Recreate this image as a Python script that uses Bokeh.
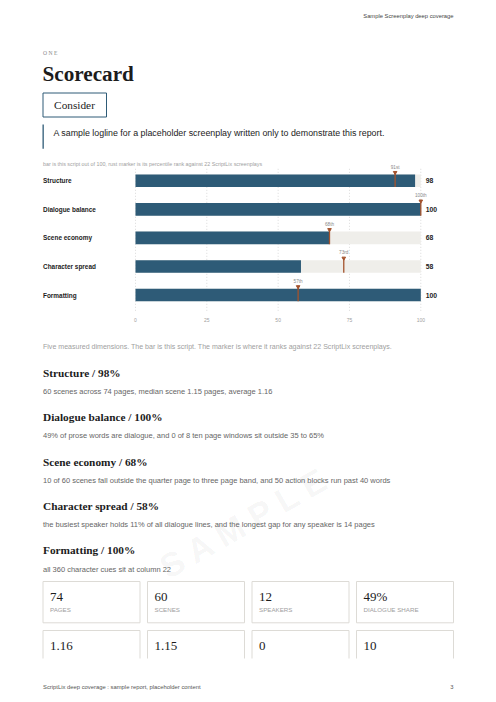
from bokeh.plotting import figure
from bokeh.models import Range1d, ColumnDataSource
from bokeh.core.properties import value
from bokeh.embed import file_html
from bokeh.resources import INLINE

# ---------------- data ----------------
categories = ["Structure", "Dialogue balance", "Scene economy", "Character spread", "Formatting"]
scores = [98, 100, 68, 58, 100]
percentiles = [91, 100, 68, 73, 57]
percentile_labels = ["91st", "100th", "68th", "73rd", "57th"]
ticks = [0, 25, 50, 75, 100]
details = [
    "60 scenes across 74 pages, median scene 1.15 pages, average 1.16",
    "49% of prose words are dialogue, and 0 of 8 ten page windows sit outside 35 to 65%",
    "10 of 60 scenes fall outside the quarter page to three page band, and 50 action blocks run past 40 words",
    "the busiest speaker holds 11% of all dialogue lines, and the longest gap for any speaker is 14 pages",
    "all 360 character cues sit at column 22",
]
stat_values = ["74", "60", "12", "49%", "1.16", "1.15", "0", "10"]
stat_labels = ["PAGES", "SCENES", "SPEAKERS", "DIALOGUE SHARE", "", "", "", ""]

# ---------------- styles / layout ----------------
TEAL = "#2e5b77"
TRACK = "#efeeea"
RUST = "#a4532d"
INK = "#1c1c1c"
GREY = "#666666"
LIGHT = "#a0a0a0"
BOX = "#dddbd6"
SANS = value("Liberation Sans")
SERIF = value("Liberation Serif")

W, H = 488, 694
X0_PX, X100_PX = 135.0, 420.3
ROW0_PX, ROW_STEP = 180.3, 28.55
BAR_H = 0.44

px_per_unit = (X100_PX - X0_PX) / 100.0
score_range = Range1d(start=-X0_PX / px_per_unit, end=(W - X0_PX) / px_per_unit)
row_range = Range1d(start=(H - ROW0_PX) / ROW_STEP, end=-ROW0_PX / ROW_STEP)

p = figure(width=W, height=H, output_backend="svg", toolbar_location=None,
           x_range=Range1d(0, W), y_range=Range1d(H, 0),
           min_border=0, outline_line_color=None, background_fill_color="white",
           border_fill_color="white")
p.axis.visible = False
p.grid.visible = False
p.extra_x_ranges = {"score": score_range}
p.extra_y_ranges = {"rows": row_range}


def txt(x, y, s, size, color=INK, font=SANS, style="normal", align="left",
        baseline="middle", angle=0, alpha=1.0, xr="default", yr="default"):
    p.text(x=[x], y=[y], text=[s], text_font=font, text_font_size=f"{size}px",
           text_color=color, text_font_style=style, text_align=align,
           text_baseline=baseline, angle=angle, text_alpha=alpha,
           x_range_name=xr, y_range_name=yr)


# watermark
txt(244, 522, "S A M P L E", 34, color="#000000", style="bold", align="center",
    angle=0.52, alpha=0.05)

# header
txt(453, 15, "Sample Screenplay deep coverage", 5.8, color="#444444", align="right")
txt(42.5, 52, "O N E", 5.6, color="#888888", font=SERIF)
txt(42, 73, "Scorecard", 21.2, color=INK, font=SERIF, style="bold")

# consider box
p.quad(left=[42.5], right=[106], top=[92.5], bottom=[116.5], fill_color=None,
       line_color=TEAL, line_width=1)
txt(74, 104, "Consider", 11.3, color=INK, font=SERIF, align="center")

# logline
p.quad(left=[42], right=[43.3], top=[124], bottom=[148.3], fill_color=TEAL, line_color=None)
txt(53, 132.5, "A sample logline for a placeholder screenplay written only to demonstrate this report.",
    8.85, color="#222222")

# chart caption
txt(42.5, 163, "bar is this script out of 100, rust marker is its percentile rank against 22 ScriptLix screenplays",
    5.35, color=LIGHT)

rows = list(range(len(categories)))
src = ColumnDataSource(dict(
    row=rows, cat=categories, score=scores, pct=percentiles, plab=percentile_labels,
    slab=[str(s) for s in scores],
    bot=[r + BAR_H / 2 for r in rows],
    mtop=[r - BAR_H / 2 - 0.07 for r in rows],
    lab_y=[r - BAR_H / 2 - 0.26 for r in rows],
))

# dotted grid
p.segment(x0=ticks, x1=ticks, y0=[-0.42] * len(ticks), y1=[4.62] * len(ticks),
          line_color="#d0d0d0", line_width=0.8, line_dash="1 2",
          x_range_name="score", y_range_name="rows")
# tracks and bars
p.hbar(y="row", left=0, right=100, height=BAR_H, source=src, fill_color=TRACK,
       line_color=None, x_range_name="score", y_range_name="rows")
p.hbar(y="row", left=0, right="score", height=BAR_H, source=src, fill_color=TEAL,
       line_color=None, x_range_name="score", y_range_name="rows")
# percentile markers
p.segment(x0="pct", x1="pct", y0="mtop", y1="bot", source=src, line_color=RUST,
          line_width=1.3, x_range_name="score", y_range_name="rows")
p.scatter(x="pct", y="mtop", marker="inverted_triangle", size=3.6, source=src,
          fill_color=RUST, line_color=RUST, x_range_name="score", y_range_name="rows")
p.text(x="pct", y="lab_y", text="plab", source=src, text_font=SANS, text_font_size="4.7px",
       text_color="#8a8a8a", text_align="center", text_baseline="middle",
       x_range_name="score", y_range_name="rows")
# category + value labels
p.text(x=42.5, y="row", text="cat", source=src, text_font=SANS, text_font_size="6.45px",
       text_font_style="bold", text_color=INK, text_baseline="middle", y_range_name="rows")
p.text(x=101.7, y="row", text="slab", source=src, text_font=SANS, text_font_size="6.8px",
       text_font_style="bold", text_color=INK, text_baseline="middle",
       x_range_name="score", y_range_name="rows")
# tick labels
p.text(x=ticks, y=[4.86] * len(ticks), text=[str(t) for t in ticks], text_font=SANS,
       text_font_size="5px", text_color=LIGHT, text_align="center", text_baseline="middle",
       x_range_name="score", y_range_name="rows")

# chart footnote
txt(42.5, 345.7, "Five measured dimensions. The bar is this script. The marker is where it ranks against 22 ScriptLix screenplays.",
    7.05, color=LIGHT)

# dimension write-ups
for i, (c, s, d) in enumerate(zip(categories, scores, details)):
    hy = 372.3 + i * 44.4
    txt(42.5, hy, f"{c} / {s}%", 11.3, color=INK, font=SERIF, style="bold")
    txt(42.5, hy + 18.6, d, 7.5, color=GREY)

# stat boxes
for i, (v, l) in enumerate(zip(stat_values, stat_labels)):
    col, r = i % 4, i // 4
    bx = 42.5 + col * 104.5
    if r == 0:
        p.quad(left=[bx], right=[bx + 97], top=[581], bottom=[622.3], fill_color=None,
               line_color=BOX, line_width=1)
        txt(bx + 7, 596, v, 13, color=INK, font=SERIF)
        txt(bx + 7, 609, l, 6.2, color=LIGHT)
    else:
        p.multi_line(xs=[[bx, bx, bx + 97, bx + 97]], ys=[[658, 630, 630, 658]],
                     line_color=BOX, line_width=1)
        txt(bx + 7, 645, v, 13, color=INK, font=SERIF)

# footer
txt(42.5, 686, "ScriptLix deep coverage : sample report, placeholder content", 5.85, color="#555555")
txt(453, 686, "3", 5.85, color="#555555", align="right")

open("out.html", "w").write(file_html(p, INLINE))
